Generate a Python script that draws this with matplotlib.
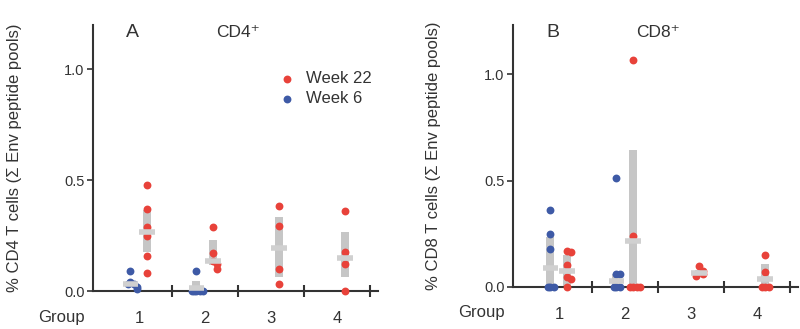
import matplotlib
matplotlib.use("Agg")
import matplotlib.pyplot as plt
import matplotlib.transforms as mtransforms

plt.rcParams['font.family'] = ['Liberation Sans', 'DejaVu Sans']

RED = '#e8423a'
BLUE = '#3e5aa6'
GREY = '#c6c6c6'
INK = '#333333'

groups = [1, 2, 3, 4]
group_labels = ['1', '2', '3', '4']

# CD4 values per group (week 6 only measured in groups 1 and 2)
cd4_wk6 = [[0.09, 0.04, 0.03, 0.03, 0.02, 0.01],
           [0.09, 0.0, 0.0, 0.0, 0.0, 0.0],
           [], []]
cd4_wk22 = [[0.48, 0.37, 0.29, 0.25, 0.16, 0.08],
            [0.29, 0.17, 0.135, 0.12, 0.10],
            [0.385, 0.295, 0.10, 0.03],
            [0.36, 0.175, 0.12, 0.0]]
# summary bars: (centre, low, high)
cd4_wk6_bar = [(0.03, 0.02, 0.047), (0.015, 0.0, 0.045), None, None]
cd4_wk22_bar = [(0.264, 0.178, 0.363), (0.137, 0.118, 0.23),
                (0.196, 0.062, 0.333), (0.151, 0.062, 0.265)]

# CD8 values per group
cd8_wk6 = [[0.36, 0.25, 0.18, 0.0, 0.0, 0.0],
           [0.515, 0.06, 0.06, 0.0, 0.0, 0.0],
           [], []]
cd8_wk22 = [[0.17, 0.165, 0.105, 0.045, 0.035, 0.0],
            [1.07, 0.24, 0.0, 0.0, 0.0, 0.0],
            [0.10, 0.075, 0.06, 0.05],
            [0.15, 0.07, 0.0, 0.0, 0.0]]
cd8_wk6_bar = [(0.088, 0.0, 0.237), (0.03, 0.0, 0.06), None, None]
cd8_wk22_bar = [(0.075, 0.0, 0.151), (0.217, 0.0, 0.645),
                (0.065, 0.05, 0.08), (0.036, 0.0, 0.107)]


def spread(vals, x0):
    # small side-by-side shift for points that sit on top of each other
    xs = []
    placed = []
    steps = [0, 0.06, -0.04, 0.1, -0.07, 0.13]
    for v in vals:
        n = sum(1 for p in placed if abs(p - v) < 0.03)
        xs.append(x0 + steps[min(n, len(steps) - 1)])
        placed.append(v)
    return xs


def draw_series(ax, data, bars, offset, color, label):
    first = True
    for g, vals, bar in zip(groups, data, bars):
        x0 = g + offset
        if bar is not None:
            c, lo, hi = bar
            ax.bar(x0, hi - lo, bottom=lo, width=0.12, color=GREY,
                   zorder=1, clip_on=False)
        if vals:
            ax.scatter(spread(vals, x0), vals, s=32, color=color, zorder=3,
                       clip_on=False, linewidths=0,
                       label=label if first else None)
            first = False
        if bar is not None:
            ax.plot([x0 - 0.12, x0 + 0.12], [c, c], color='#d0d0d0',
                    lw=4, solid_capstyle='butt', zorder=4, clip_on=False)


def draw_panel(ax, wk6, wk22, bar6, bar22, letter, title, ylabel, ymax):
    draw_series(ax, wk22, bar22, 0.12, RED, 'Week 22')
    draw_series(ax, wk6, bar6, -0.13, BLUE, 'Week 6')
    ax.set_xlim(0.3, 4.62)
    ax.set_ylim(0, ymax)
    for s in ['top', 'right']:
        ax.spines[s].set_visible(False)
    for s in ['left', 'bottom']:
        ax.spines[s].set_linewidth(1.5)
        ax.spines[s].set_color(INK)
    ax.set_yticks([0, 0.5, 1.0])
    ax.set_yticklabels(['0.0', '0.5', '1.0'])
    ax.tick_params(axis='y', length=4, width=1.2, color=INK, labelsize=10.5,
                   labelcolor=INK, pad=2)
    ax.set_xticks([1.5, 2.5, 3.5, 4.5])
    ax.set_xticklabels([])
    ax.tick_params(axis='x', which='major', direction='inout', length=9,
                   width=1.5, color=INK)
    ax.set_xticks(groups, minor=True)
    ax.set_xticklabels(group_labels, minor=True)
    ax.tick_params(axis='x', which='minor', length=0, pad=14.5, labelsize=12,
                   labelcolor=INK)
    # 'Group' caption sits on the same line as the group numbers
    off = mtransforms.offset_copy(ax.transData, fig=ax.figure, x=0, y=-26,
                                  units='dots')
    ax.text(-0.17, 0, 'Group', transform=off, ha='center', va='center',
            fontsize=12, color=INK, clip_on=False)
    trans = mtransforms.blended_transform_factory(ax.transData, ax.transAxes)
    ax.text(0.9, 0.972, letter, transform=trans, ha='center', va='center',
            fontsize=14, color=INK)
    ax.text(2.5, 0.972, title, transform=trans, ha='center', va='center',
            fontsize=12.5, color=INK)
    ax.set_ylabel(ylabel, fontsize=12, color=INK)
    ax.yaxis.set_label_coords(-0.25, 0.5)


fig = plt.figure(figsize=(8, 3.29), dpi=100)
ax1 = fig.add_axes([0.116, 0.1155, 0.3565, 0.809])
ax2 = fig.add_axes([0.641, 0.128, 0.3565, 0.796])

draw_panel(ax1, cd4_wk6, cd4_wk22, cd4_wk6_bar, cd4_wk22_bar, 'A', 'CD4\u207a',
           '% CD4 T cells (\u03a3 Env peptide pools)', 1.2)
draw_panel(ax2, cd8_wk6, cd8_wk22, cd8_wk6_bar, cd8_wk22_bar, 'B', 'CD8\u207a',
           '% CD8 T cells (\u03a3 Env peptide pools)', 1.233)

leg = ax1.legend(loc='upper left', bbox_to_anchor=(0.63, 0.85), frameon=False,
                 fontsize=12, handletextpad=0.6, borderaxespad=0,
                 labelspacing=0.3, handlelength=1.0, scatterpoints=1)
for t in leg.get_texts():
    t.set_color(INK)

fig.savefig('out.png', dpi=100)
